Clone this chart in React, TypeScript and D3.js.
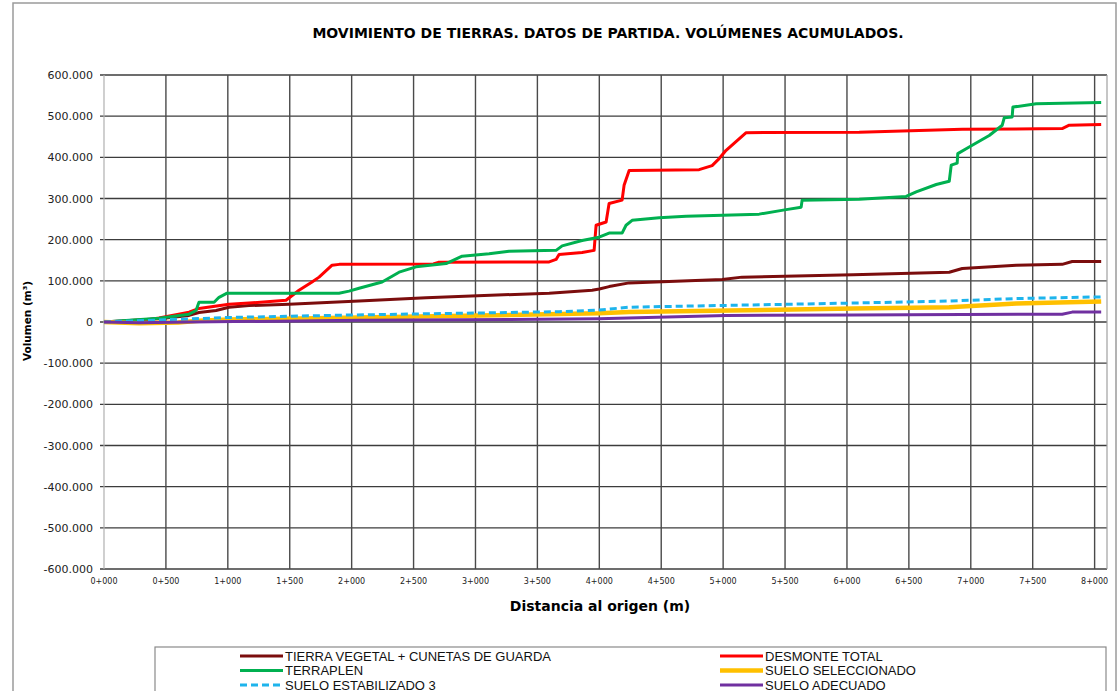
import React from 'react';
import * as d3 from 'd3';

// Chart content
const title = 'MOVIMIENTO DE TIERRAS. DATOS DE PARTIDA. VOLÚMENES ACUMULADOS.';
const xTitle = 'Distancia al origen (m)';
const yTitle = 'Volumen (m³)';

const xTicks = d3.range(0, 8001, 500);
const yTicks = d3.range(-600000, 600001, 100000);

// [distancia (m), volumen (m3)]
const tierraVegetal: [number, number][] = [
  [0, 0], [444, 8000], [687, 16000], [767, 23000], [905, 28000], [1010, 36000], [1171, 40000],
  [1494, 43000], [1712, 46000], [2060, 51000], [2601, 59000], [3595, 70000], [3942, 77000],
  [4000, 80000], [4079, 86000], [4241, 95000], [4992, 103000], [5153, 109000], [6050, 115000],
  [6826, 121000], [6931, 130000], [7367, 138000], [7738, 140000], [7819, 147000], [8053, 147000],
];
const desmonteTotal: [number, number][] = [
  [0, 0], [283, 2000], [444, 10000], [687, 24000], [767, 33000], [1010, 43000], [1171, 46000],
  [1470, 53000], [1575, 77000], [1680, 97000], [1737, 109000], [1842, 138000], [1900, 140000],
  [2660, 141000], [2700, 145000], [3595, 146000], [3651, 152000], [3675, 164000], [3861, 169000],
  [3958, 174000], [3974, 235000], [4055, 243000], [4079, 288000], [4184, 296000], [4200, 332000],
  [4241, 368000], [4806, 370000], [4911, 380000], [4968, 397000], [5024, 417000], [5186, 460000],
  [6099, 461000], [6931, 468000], [7738, 470000], [7795, 478000], [8053, 480000],
];
const terraplen: [number, number][] = [
  [0, 0], [444, 9000], [687, 19000], [743, 28000], [767, 48000], [889, 48000], [929, 60000],
  [994, 70000], [1898, 70000], [1979, 75000], [2060, 82000], [2246, 97000], [2383, 121000],
  [2520, 134000], [2763, 142000], [2892, 160000], [3110, 166000], [3271, 172000], [3651, 174000],
  [3700, 185000], [3861, 198000], [3998, 206000], [4079, 216000], [4184, 216000], [4216, 235000],
  [4265, 247000], [4483, 253000], [4701, 257000], [5291, 262000], [5509, 273000], [5630, 279000],
  [5638, 296000], [6099, 298000], [6478, 305000], [6559, 316000], [6721, 334000], [6826, 342000],
  [6842, 381000], [6890, 386000], [6895, 409000], [6987, 425000], [7149, 453000], [7254, 478000],
  [7270, 496000], [7334, 498000], [7340, 522000], [7528, 530000], [8053, 533000],
];
const sueloSeleccionado: [number, number][] = [
  [0, 0], [283, -3000], [600, -1000], [767, 3000], [1010, 6000], [2060, 11000], [3998, 21000],
  [4241, 24000], [6050, 33000], [6826, 36000], [7367, 45000], [8053, 50000],
];
const sueloEstabilizado: [number, number][] = [
  [0, 0], [1010, 11000], [2000, 17000], [3675, 25000], [4000, 29000], [4241, 36000],
  [6050, 46000], [6826, 51000], [7367, 57000], [8053, 61000],
];
const sueloAdecuado: [number, number][] = [
  [0, 0], [283, -2000], [700, 0], [2060, 4000], [3271, 6000], [3998, 8000], [5024, 16000],
  [6050, 17000], [7738, 19000], [7819, 24000], [8053, 24000],
];

const series = [
  { name: 'TIERRA VEGETAL + CUNETAS DE GUARDA', data: tierraVegetal, color: '#7b0d0d', width: 3, dash: '' },
  { name: 'DESMONTE TOTAL', data: desmonteTotal, color: '#ff0000', width: 3, dash: '' },
  { name: 'TERRAPLEN', data: terraplen, color: '#00b050', width: 3, dash: '' },
  { name: 'SUELO SELECCIONADO', data: sueloSeleccionado, color: '#ffc000', width: 4.5, dash: '' },
  { name: 'SUELO ESTABILIZADO 3', data: sueloEstabilizado, color: '#1eb4ec', width: 3, dash: '7,4' },
  { name: 'SUELO ADECUADO', data: sueloAdecuado, color: '#7030a0', width: 3, dash: '' },
];
// legend order: left column then right column
const legendOrder = [
  'TIERRA VEGETAL + CUNETAS DE GUARDA', 'DESMONTE TOTAL',
  'TERRAPLEN', 'SUELO SELECCIONADO',
  'SUELO ESTABILIZADO 3', 'SUELO ADECUADO',
];

const W = 1119;
const H = 691;
const plot = { left: 104, right: 1107, top: 75, bottom: 569 };

const esLocale = d3.formatLocale({ decimal: ',', thousands: '.', grouping: [3], currency: ['', ' €'], minus: '-' });
const fmtY = esLocale.format(',.0f');
const fmtX = (d: number) => `${Math.floor(d / 1000)}+${String(d % 1000).padStart(3, '0')}`;

const App: React.FC = () => {
  const x = d3.scaleLinear().domain([0, 8100]).range([plot.left, plot.right]);
  const y = d3.scaleLinear().domain([-600000, 600000]).range([plot.bottom, plot.top]);

  const line = d3.line<[number, number]>()
    .x((d) => x(d[0]))
    .y((d) => y(d[1]))
    .curve(d3.curveLinear);

  const font = 'DejaVu Sans, Verdana, sans-serif';
  const legendFont = '"Liberation Sans Narrow", "Arial Narrow", "Liberation Sans", sans-serif';

  return (
    <svg width={W} height={H} style={{ position: 'absolute', left: 0, top: 0, background: '#fff' }}>
      <rect x={0} y={0} width={W} height={H} fill="#fff" />
      {/* chart frame */}
      <rect x={13} y={3} width={1103} height={H + 10} fill="none" stroke="#9a9a9a" strokeWidth={1.5} />

      <text x={608} y={38} textAnchor="middle" fontFamily={font} fontWeight="bold" fontSize={14}>
        {title}
      </text>

      {/* grid */}
      <g>
        {yTicks.map((t) => (
          <line key={`gy${t}`} x1={plot.left - 4} x2={plot.right} y1={y(t)} y2={y(t)} stroke="#3c3c3c" strokeWidth={1.4} />
        ))}
        {xTicks.map((t) => (
          <line key={`gx${t}`} x1={x(t)} x2={x(t)} y1={plot.top} y2={plot.bottom} stroke={t === 0 ? '#b0b0b0' : '#4a4a4a'} strokeWidth={t === 0 ? 1.2 : 1.4} />
        ))}
        <line x1={plot.right} x2={plot.right} y1={plot.top} y2={plot.bottom} stroke="#a0a0a0" strokeWidth={1.2} />
      </g>

      {/* y axis labels */}
      <g fontFamily={font} fontSize={11} fill="#222">
        {yTicks.map((t) => (
          <text key={`ly${t}`} x={93} y={y(t) + 4} textAnchor="end">{fmtY(t)}</text>
        ))}
      </g>
      {/* x axis labels */}
      <g fontFamily={font} fontSize={8} fill="#222">
        {xTicks.map((t) => (
          <text key={`lx${t}`} x={x(t)} y={584} textAnchor="middle">{fmtX(t)}</text>
        ))}
      </g>

      <text x={600} y={611} textAnchor="middle" fontFamily={font} fontWeight="bold" fontSize={14}>{xTitle}</text>
      <text transform="translate(31,321) rotate(-90)" textAnchor="middle" fontFamily={font} fontWeight="bold" fontSize={10.5}>{yTitle}</text>

      {/* series */}
      <g fill="none" strokeLinejoin="round">
        {series.map((s) => (
          <path key={s.name} d={line(s.data) || ''} stroke={s.color} strokeWidth={s.width} strokeDasharray={s.dash || undefined} />
        ))}
      </g>

      {/* legend */}
      <rect x={155} y={647} width={951} height={60} fill="#fff" stroke="#8a8a8a" strokeWidth={1.2} />
      <g fontFamily={legendFont} fontSize={13} fill="#111">
        {legendOrder.map((name, i) => {
          const s = series.find((d) => d.name === name)!;
          const col = i % 2;
          const row = Math.floor(i / 2);
          const lx = col === 0 ? 240 : 720;
          const ly = 656 + row * 14.5;
          return (
            <g key={name}>
              <line x1={lx} x2={lx + 43} y1={ly} y2={ly} stroke={s.color} strokeWidth={s.width} strokeDasharray={s.dash || undefined} />
              <text x={lx + 45} y={ly + 4.5}>{name}</text>
            </g>
          );
        })}
      </g>
    </svg>
  );
};

export default App;
